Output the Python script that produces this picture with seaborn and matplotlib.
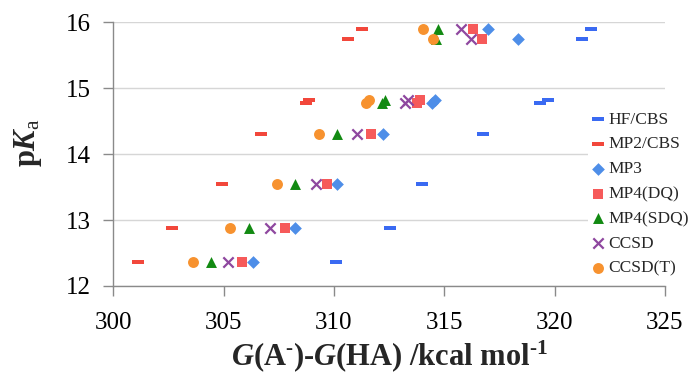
import numpy as np
import pandas as pd
import matplotlib
matplotlib.use("Agg")
import matplotlib.pyplot as plt
import seaborn as sns

# pKa (experimental) for each compound row
pka = [15.90, 15.74, 14.82, 14.77, 14.31, 13.55, 12.88, 12.36]

# G(A-)-G(HA) in kcal/mol per method
hf_cbs = [321.65, 321.26, 319.72, 319.34, 316.77, 313.99, 312.54, 310.10]
mp2_cbs = [311.29, 310.62, 308.87, 308.73, 306.69, 304.91, 302.65, 301.11]
mp3 = [317.00, 318.36, 314.60, 314.45, 312.24, 310.15, 308.24, 306.32]
mp4_dq = [316.29, 316.70, 313.90, 313.75, 311.68, 309.70, 307.78, 305.82]
mp4_sdq = [314.73, 314.63, 312.30, 312.20, 310.13, 308.22, 306.17, 304.42]
ccsd = [315.75, 316.20, 313.35, 313.20, 311.06, 309.19, 307.10, 305.21]
ccsd_t = [314.03, 314.48, 311.60, 311.45, 309.33, 307.43, 305.29, 303.63]

methods = ["HF/CBS", "MP2/CBS", "MP3", "MP4(DQ)", "MP4(SDQ)", "CCSD", "CCSD(T)"]
values = [hf_cbs, mp2_cbs, mp3, mp4_dq, mp4_sdq, ccsd, ccsd_t]

x_ticks = [300, 305, 310, 315, 320, 325]
y_ticks = [12, 13, 14, 15, 16]

df = pd.DataFrame({
    "dG": np.concatenate(values),
    "pKa": pka * len(methods),
    "method": np.repeat(methods, len(pka)),
})

# flat dash marker like the Excel one
dash = [(-3, -1), (3, -1), (3, 1), (-3, 1), (-3, -1)]
styles = {
    "HF/CBS": dict(marker=dash, color="#3a6af2", s=80, linewidth=0),
    "MP2/CBS": dict(marker=dash, color="#f2473b", s=80, linewidth=0),
    "MP3": dict(marker="D", color="#4e8ee8", s=42, linewidth=0),
    "MP4(DQ)": dict(marker="s", color="#f65a5a", s=62, linewidth=0),
    "MP4(SDQ)": dict(marker="^", color="#128a12", s=62, linewidth=0),
    "CCSD": dict(marker="x", color="#8e479f", s=55, linewidth=1.6),
    "CCSD(T)": dict(marker="o", color="#f7922f", s=62, linewidth=0),
}

sns.set_style("ticks")
plt.rcParams["font.family"] = ["Liberation Serif", "DejaVu Serif"]
plt.rcParams["mathtext.fontset"] = "custom"
plt.rcParams["mathtext.rm"] = "Liberation Serif:bold"
plt.rcParams["mathtext.it"] = "Liberation Serif:italic:bold"
plt.rcParams["mathtext.sf"] = "Liberation Serif"

fig = plt.figure(figsize=(6.89, 3.78), dpi=100)
ax = fig.add_axes([0.1645, 0.2434, 0.8005, 0.6976])

for name in methods:
    sub = df[df["method"] == name]
    sns.scatterplot(data=sub, x="dG", y="pKa", ax=ax, label=name, zorder=3,
                    **styles[name])

ax.set_xlim(300, 325)
ax.set_ylim(12, 16)
ax.set_xticks(x_ticks)
ax.set_yticks(y_ticks)
ax.grid(axis="y", color="#d6d6d6", linewidth=1.0)
ax.set_axisbelow(True)

for side in ["top", "right"]:
    ax.spines[side].set_visible(False)
for side in ["left", "bottom"]:
    ax.spines[side].set_color("#8a8a8a")
    ax.spines[side].set_linewidth(1.0)

ax.tick_params(axis="both", colors="#8a8a8a", length=7, width=1.0,
               labelcolor="black", labelsize=18)
ax.tick_params(axis="x", pad=12)
ax.tick_params(axis="y", pad=9)

ax.set_xlabel("$G$(A$^{\u2010}$)-$G$(HA) /kcal mol$^{\u20101}$",
              fontsize=22, fontweight="bold")
ax.set_ylabel(r"p$K_{\mathsf{a}}$", fontsize=22, fontweight="bold")
ax.xaxis.set_label_coords(0.5, -0.2)
ax.yaxis.set_label_coords(-0.125, 0.545)

leg = ax.legend(loc="upper left", bbox_to_anchor=(588 / 689, 1 - 108 / 378),
                bbox_transform=fig.transFigure, fontsize=12.5, frameon=True,
                facecolor="white", edgecolor="none", framealpha=1,
                handlelength=0.7, handletextpad=0.25, labelspacing=0.5,
                borderpad=0.2, borderaxespad=0)
leg.set_zorder(5)

fig.savefig("out.png", dpi=100)
